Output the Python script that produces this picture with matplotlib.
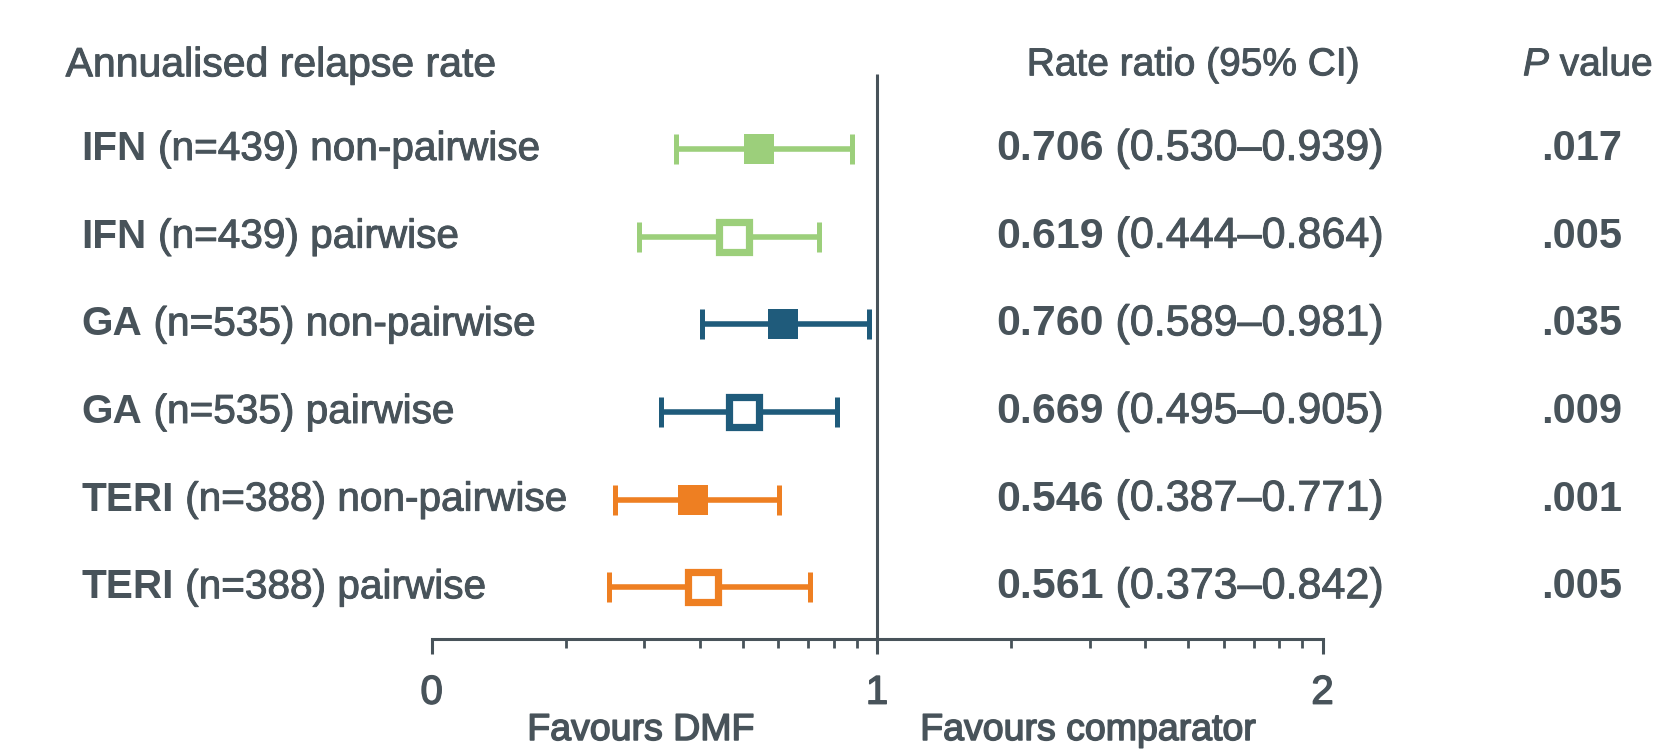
import numpy as np
import matplotlib
matplotlib.use("Agg")
import matplotlib.pyplot as plt
import matplotlib.transforms as mtransforms
import matplotlib.patheffects as pe

plt.rcParams['font.family'] = ['Liberation Sans', 'DejaVu Sans']

# --- data ---
drug = ['IFN', 'IFN', 'GA', 'GA', 'TERI', 'TERI']
label_rest = [' (n=439) non-pairwise', ' (n=439) pairwise',
              ' (n=535) non-pairwise', ' (n=535) pairwise',
              ' (n=388) non-pairwise', ' (n=388) pairwise']
point = [0.735, 0.679, 0.788, 0.702, 0.586, 0.608]
ci_lo = [0.549, 0.466, 0.606, 0.515, 0.411, 0.397]
ci_hi = [0.943, 0.870, 0.982, 0.909, 0.780, 0.849]
pairwise = [False, True, False, True, False, True]
rr_text = ['0.706', '0.619', '0.760', '0.669', '0.546', '0.561']
ci_text = ['0.530\u20130.939', '0.444\u20130.864', '0.589\u20130.981',
           '0.495\u20130.905', '0.387\u20130.771', '0.373\u20130.842']
p_text = ['.017', '.005', '.035', '.009', '.001', '.005']
colors = ['#9ccf7b', '#9ccf7b', '#1f5b7b', '#1f5b7b', '#ee7f22', '#ee7f22']
tick_vals = [0, 1, 2]
tick_labels = ['0', '1', '2']

TXT = '#48535a'
W, H = 1659, 750
MED = [pe.withStroke(linewidth=0.7, foreground=TXT)]   # fake "medium" weight

fig = plt.figure(figsize=(W / 100, H / 100), dpi=100)
ax = fig.add_axes([431.7 / W, 1 - 639 / H, (1322.5 - 431.7) / W, 639 / H])
ax.set_xlim(0, 2)
ax.set_ylim(5.59, -1.70)

y = np.arange(len(point))
pt = np.array(point)

# reference line at 1
ax.vlines(1, -0.86, 5.59, color=TXT, lw=2.2, zorder=1)

for i in range(len(point)):
    c = colors[i]
    ax.errorbar(pt[i], y[i], xerr=[[pt[i] - ci_lo[i]], [ci_hi[i] - pt[i]]],
                fmt='none', ecolor=c, elinewidth=4, capsize=10.5, capthick=3.6, zorder=2)
    if pairwise[i]:
        ax.plot(pt[i], y[i], marker='s', ms=21, mfc='white', mec=c, mew=5.2,
                zorder=3, solid_joinstyle='round')
    else:
        ax.plot(pt[i], y[i], marker='s', ms=21, mfc=c, mec=c, mew=0, zorder=3)

# axis styling
for s in ['top', 'right', 'left']:
    ax.spines[s].set_visible(False)
ax.spines['bottom'].set_color(TXT)
ax.spines['bottom'].set_linewidth(2.2)
ax.set_yticks([])
ax.set_xticks(tick_vals)
ax.set_xticklabels(tick_labels)
minor = [d + np.log10(k) for d in (0, 1) for k in range(2, 10)]
ax.set_xticks(minor, minor=True)
ax.tick_params(axis='x', which='major', length=11, width=2.2, color=TXT,
               labelsize=29, labelcolor=TXT, pad=14)
ax.tick_params(axis='x', which='minor', length=6.5, width=2.0, color=TXT)
for lab in ax.get_xticklabels():
    lab.set_path_effects([pe.withStroke(linewidth=1.0, foreground=TXT)])
ax.patch.set_alpha(0)

trans = mtransforms.blended_transform_factory(fig.transFigure, ax.transData)
hy = -0.955

# headers
ax.text(65.6 / W, hy, 'Annualised relapse rate', transform=trans, fontsize=29.5,
        color=TXT, va='center', ha='left', clip_on=False, path_effects=MED)
ax.text(1193 / W, hy, 'Rate ratio (95% CI)', transform=trans, fontsize=28,
        color=TXT, va='center', ha='center', clip_on=False, path_effects=MED)
hp = ax.text(1523 / W, hy, 'P', transform=trans, fontsize=28, color=TXT,
             style='italic', va='center', ha='left', clip_on=False, path_effects=MED)
ax.annotate(' value', xy=(1, 0), xycoords=hp, fontsize=28, color=TXT,
            va='bottom', ha='left', annotation_clip=False, path_effects=MED)

# rows
for i in range(len(point)):
    t1 = ax.text(81.5 / W, y[i], drug[i], transform=trans, fontsize=29.2,
                 color=TXT, weight='bold', va='center', ha='left', clip_on=False)
    ax.annotate(label_rest[i], xy=(1, 0), xycoords=t1, fontsize=29.2, color=TXT,
                va='bottom', ha='left', annotation_clip=False, path_effects=MED)
    t2 = ax.text(996 / W, y[i], rr_text[i], transform=trans, fontsize=31,
                 color=TXT, weight='bold', va='center', ha='left', clip_on=False)
    ax.annotate(' (' + ci_text[i] + ')', xy=(1, 0), xycoords=t2, fontsize=31,
                color=TXT, va='bottom', ha='left', annotation_clip=False,
                path_effects=MED)
    ax.text(1582 / W, y[i], p_text[i], transform=trans, fontsize=30,
            color=TXT, weight='bold', va='center', ha='center', clip_on=False)

# favours labels
fig.text(641 / W, 1 - 730 / H, 'Favours DMF', fontsize=27, color=TXT,
         ha='center', va='center', path_effects=[pe.withStroke(linewidth=1.1, foreground=TXT)])
fig.text(1088 / W, 1 - 730 / H, 'Favours comparator', fontsize=27, color=TXT,
         ha='center', va='center', path_effects=[pe.withStroke(linewidth=1.1, foreground=TXT)])

fig.savefig('out.png', dpi=100, facecolor='white')
